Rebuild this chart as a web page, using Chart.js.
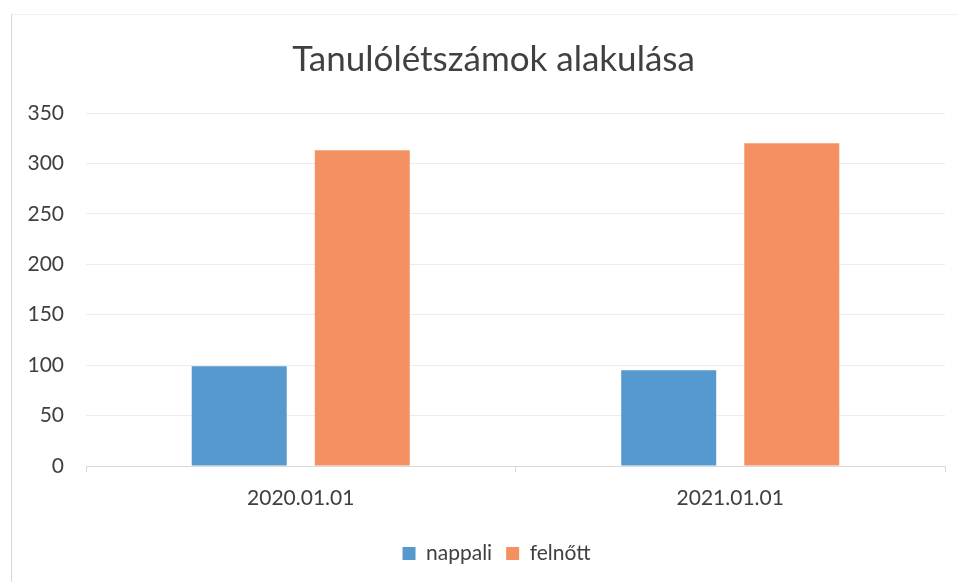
<!DOCTYPE html>
<html>
<head>
<meta charset="utf-8">
<script src="https://cdn.jsdelivr.net/npm/chart.js@4"></script>
<style>
html,body{margin:0;padding:0;background:#fff;}
#wrap{position:absolute;left:0;top:0;width:958px;height:582px;}
#frame{position:absolute;left:11px;top:14px;width:947px;height:568px;border-left:1.5px solid #d6d6d6;border-top:1px solid #f0f0f0;}
</style>
</head>
<body>
<div id="wrap">
<div id="frame"></div>
<canvas id="c" width="958" height="582"></canvas>
</div>
<script>
const titleText = 'Tanulólétszámok alakulása';
const categories = ['2020.01.01', '2021.01.01'];
const seriesNames = ['nappali', 'felnőtt'];
const nappali = [99, 95];
const felnott = [313, 320];
const yTicks = [0, 50, 100, 150, 200, 250, 300, 350];

const FONT = 'Lato, "Open Sans", sans-serif';
const TXT = '#404040';

// shift title and legend boxes to be centred on the whole chart frame (as in Excel)
const centreShift = {
  id: 'centreShift',
  afterLayout(chart) {
    if (chart.titleBlock) { chart.titleBlock.left += 21; chart.titleBlock.right += 21; }
    if (chart.legend) { chart.legend.left += 24; chart.legend.right += 24; }
  }
};

new Chart(document.getElementById('c'), {
  type: 'bar',
  data: {
    labels: categories,
    datasets: [
      { label: seriesNames[0], data: nappali, backgroundColor: '#5599cf', borderWidth: 0 },
      { label: seriesNames[1], data: felnott, backgroundColor: '#f49163', borderWidth: 0 }
    ]
  },
  plugins: [centreShift],
  options: {
    responsive: false,
    animation: false,
    devicePixelRatio: 1,
    datasets: { bar: { categoryPercentage: 0.573, barPercentage: 0.772 } },
    layout: { padding: { left: 0, right: 13, top: 39, bottom: 8 } },
    plugins: {
      title: {
        display: true, text: titleText, color: TXT,
        font: { family: FONT, size: 35, weight: 'normal' },
        padding: { top: 0, bottom: 32 }
      },
      legend: {
        position: 'bottom',
        labels: {
          color: TXT, font: { family: FONT, size: 21 },
          boxWidth: 13, boxHeight: 13, padding: 14
        }
      },
      tooltip: { enabled: false }
    },
    scales: {
      x: {
        afterFit: (s) => { s.height = 63; },
        grid: { display: true, drawOnChartArea: false, offset: true, tickLength: 6, color: '#d9d9d9' },
        border: { display: true, color: '#d9d9d9' },
        ticks: { color: TXT, font: { family: FONT, size: 21 }, padding: 14 },
      },
      y: {
        min: 0, max: 350,
        afterBuildTicks: (s) => { s.ticks = yTicks.map(v => ({ value: v })); },
        afterFit: (s) => { s.width = 86; },
        grid: { color: '#ececec', drawTicks: false },
        border: { display: false },
        ticks: { color: TXT, font: { family: FONT, size: 21 }, padding: 22 }
      }
    }
  }
});
</script>
</body>
</html>
